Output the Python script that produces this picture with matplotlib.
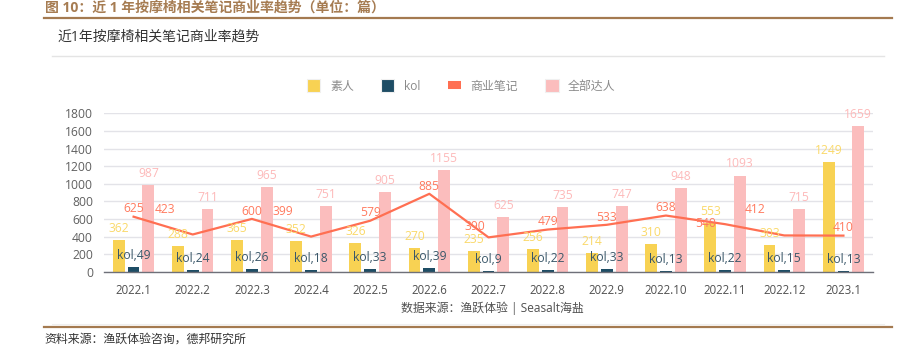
import matplotlib
matplotlib.use('Agg')
import matplotlib.pyplot as plt
import numpy as np
from matplotlib.patches import Patch
from matplotlib.lines import Line2D

plt.rcParams['font.family'] = ['Open Sans', 'Noto Sans CJK SC', 'DejaVu Sans']

# ---------------- data ----------------
months = ['2022.1', '2022.2', '2022.3', '2022.4', '2022.5', '2022.6', '2022.7',
          '2022.8', '2022.9', '2022.10', '2022.11', '2022.12', '2023.1']
amateur = [362, 288, 365, 352, 326, 270, 235, 256, 214, 310, 553, 303, 1249]
kol = [49, 24, 26, 18, 33, 39, 9, 22, 33, 13, 22, 15, 13]
commercial = [625, 423, 600, 399, 579, 885, 390, 479, 533, 638, 540, 412, 410]
all_talent = [987, 711, 965, 751, 905, 1155, 625, 735, 747, 948, 1093, 715, 1659]
yticks = [0, 200, 400, 600, 800, 1000, 1200, 1400, 1600, 1800]
series_names = ['素人', 'kol', '商业笔记', '全部达人']

# label offsets (points) for the line labels, as laid out in the source
line_label_offsets = [(0, 5.6), (-20, 18), (0, 5.6), (-20, 18), (0, 5.6), (0, 5.6), (-9.5, 7.7),
                      (0, 5.6), (0, 5.6), (0, 5.6), (-14, 0.7), (-21, 19), (0, 5.6)]

# ---------------- style ----------------
C_YEL = '#F8D253'
C_NAVY = '#1E4D65'
C_RED = '#FF6F52'
C_PINK = '#FBBDBD'
C_YEL_T = '#FAD96A'
C_NAVY_T = '#3A5769'
C_RED_T = '#FF7A5E'
C_PINK_T = '#FDB9B9'

W, H = 900, 346
fig = plt.figure(figsize=(W / 100, H / 100), dpi=100)


def fx(px):
    return px / W


def fy(py):
    return 1 - py / H


ax = fig.add_axes([fx(104), fy(271.7), fx(873) - fx(104), fy(113.3) - fy(271.7)])

x = np.arange(len(months))
bw = 0.2
step = 0.25
b1 = ax.bar(x - step, amateur, bw, color=C_YEL, zorder=2)
b2 = ax.bar(x, kol, bw, color=C_NAVY, zorder=2)
b3 = ax.bar(x + step, all_talent, bw, color=C_PINK, zorder=2)
ax.plot(x, commercial, color=C_RED, lw=1.6, zorder=3)

lab_fs = 8.7
for i in range(len(months)):
    ax.annotate(str(amateur[i]), (x[i] - step, amateur[i]), xytext=(0, 8.3),
                textcoords='offset points', ha='center', va='center',
                color=C_YEL_T, fontsize=lab_fs, zorder=5)
    ax.annotate('kol,' + str(kol[i]), (x[i], kol[i]), xytext=(0, 8.3),
                textcoords='offset points', ha='center', va='center',
                color=C_NAVY_T, fontsize=lab_fs, zorder=5)
    ax.annotate(str(all_talent[i]), (x[i] + step, all_talent[i]), xytext=(0, 8.3),
                textcoords='offset points', ha='center', va='center',
                color=C_PINK_T, fontsize=lab_fs, zorder=5)
    ax.annotate(str(commercial[i]), (x[i], commercial[i]), xytext=line_label_offsets[i],
                textcoords='offset points', ha='center', va='center',
                color=C_RED_T, fontsize=lab_fs, zorder=6)

ax.set_xlim(-0.5, len(months) - 0.5)
ax.set_ylim(0, 1800)
ax.set_yticks(yticks)
ax.set_xticks(x)
ax.set_xticklabels(months)
ax.tick_params(axis='y', length=0, pad=8, labelsize=8.7, labelcolor='#606060')
ax.tick_params(axis='x', length=0, pad=8.5, labelsize=8.3, labelcolor='#505050')
ax.yaxis.grid(True, color='#E3E3E8', lw=1)
ax.set_axisbelow(True)
for s in ['top', 'right', 'left']:
    ax.spines[s].set_visible(False)
ax.spines['bottom'].set_color('#6E7079')
ax.spines['bottom'].set_linewidth(1)
ax.spines['bottom'].set_zorder(4)

# legend
handles = [Patch(facecolor=C_YEL, edgecolor='#F0F0F0', lw=0.8),
           Patch(facecolor=C_NAVY, edgecolor='#F0F0F0', lw=0.8),
           Line2D([0], [0], color=C_RED, lw=5.8, solid_capstyle='butt'),
           Patch(facecolor=C_PINK, edgecolor='#F0F0F0', lw=0.8)]
leg = fig.legend(handles, series_names, loc='center', bbox_to_anchor=(fx(461.5), fy(86)),
                 ncol=4, frameon=False, fontsize=8.6, handlelength=1.1, handleheight=1.29,
                 handletextpad=0.8, columnspacing=2.3, labelcolor='#8A8A8A')

# titles, rules, notes
fig.text(fx(45), fy(8), '图 10：近 1 年按摩椅相关笔记商业率趋势（单位：篇）',
         color='#A67C52', fontsize=10, fontweight='bold', ha='left', va='center')
fig.add_artist(Line2D([fx(44), fx(892)], [fy(18.3)] * 2, color='#A47A50', lw=1.6))
fig.text(fx(57), fy(37), '近1年按摩椅相关笔记商业率趋势', color='#333333', fontsize=10,
         ha='left', va='center')
fig.add_artist(Line2D([fx(52), fx(884)], [fy(56.3)] * 2, color='#E4E4E4', lw=1))
fig.text(fx(492), fy(308.7), '数据来源：渔跃体验 | Seasalt海盐', color='#505050', fontsize=8.6,
         ha='center', va='center')
fig.add_artist(Line2D([fx(52), fx(884)], [fy(323.5)] * 2, color='#EFEFEF', lw=0.8))
fig.add_artist(Line2D([fx(44), fx(892)], [fy(326.7)] * 2, color='#A47A50', lw=1.6))
fig.text(fx(44), fy(339.3), '资料来源：渔跃体验咨询，德邦研究所', color='#333333', fontsize=8.6,
         ha='left', va='center')

fig.savefig('out.png', dpi=100)
